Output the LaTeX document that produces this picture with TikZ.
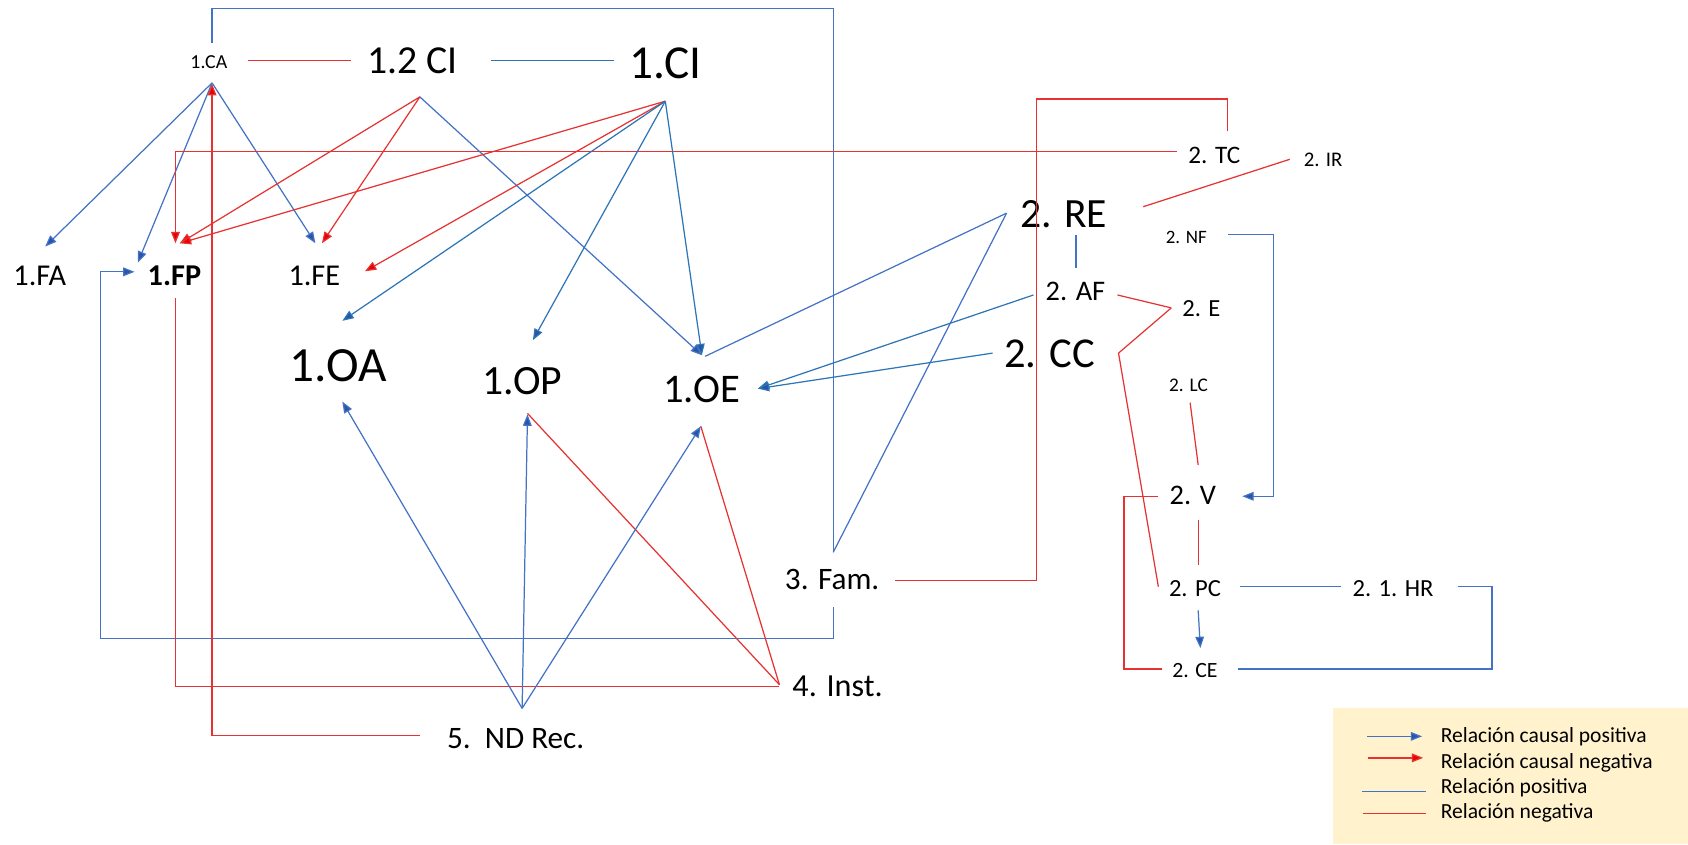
\documentclass[tikz,border=0pt]{standalone}
\usepackage{fontspec}
\setmainfont{Carlito}
\usetikzlibrary{arrows.meta,calc}
\definecolor{ln}{RGB}{68,114,196}
\definecolor{lnb}{RGB}{46,117,182}
\definecolor{arb}{RGB}{40,85,170}
\definecolor{lr}{RGB}{230,50,50}
\definecolor{arr}{RGB}{235,0,0}
\definecolor{legfill}{RGB}{255,242,204}
\begin{document}
\begin{tikzpicture}[x=0.02cm,y=-0.02cm,
  lbl/.style={anchor=base,inner sep=0pt,text=black},
  legtxt/.style={anchor=base west,inner sep=0pt,text=black,font=\fontsize{11.4pt}{11.4pt}\selectfont},
  fsz/.style={font=\fontsize{#1pt}{#1pt}\selectfont},
  relpos/.style={draw=ln,line width=0.65pt},
  relposb/.style={draw=lnb,line width=0.65pt},
  relneg/.style={draw=lr,line width=0.65pt},
  causpos/.style={relpos,-{Triangle[length=6pt,width=4.6pt,fill=arb]}},
  causposb/.style={relposb,-{Triangle[length=6pt,width=4.6pt,fill=arb]}},
  causneg/.style={relneg,-{Triangle[length=6pt,width=4.6pt,fill=arr]}}]
\useasboundingbox (0,0) rectangle (1568,784);

% ---------- nodes ----------
\node[lbl,fsz=10.5] (ca) at (194,64) {1.CA};
\node[lbl,fsz=21] (ci2) at (383,68) {1.2 CI};
\node[lbl,fsz=25] (ci) at (618,73) {1.CI};
\node[lbl,fsz=16] (fa) at (37,265) {1.FA};
\node[lbl,fsz=16] (fp) at (162,265) {\bfseries 1.FP};
\node[lbl,fsz=16] (fe) at (292,265) {1.FE};
\node[lbl,fsz=26] (oa) at (314,354) {1.OA};
\node[lbl,fsz=22] (op) at (485,366) {1.OP};
\node[lbl,fsz=21.5] (oe) at (652,374) {1.OE};
\node[lbl,fsz=13.3] (tc) at (1128,152) {2. TC};
\node[lbl,fsz=11] (ir) at (1229,155) {2. IR};
\node[lbl,fsz=22] (re) at (988,211) {2. RE};
\node[lbl,fsz=10] (nf) at (1102,226) {2. NF};
\node[lbl,fsz=15] (af) at (999,279) {2. AF};
\node[lbl,fsz=13] (e) at (1116,294) {2. E};
\node[lbl,fsz=22.5] (cc) at (975,341) {2. CC};
\node[lbl,fsz=10.2] (lc) at (1104,364) {2. LC};
\node[lbl,fsz=15] (v) at (1108,469) {2. V};
\node[lbl,fsz=13] (pc) at (1110,554) {2. PC};
\node[lbl,fsz=13] (hr) at (1294,554) {2. 1. HR};
\node[lbl,fsz=11.5] (ce) at (1110,629) {2. CE};
\node[lbl,fsz=16.5] (fam) at (773,548) {3. Fam.};
\node[lbl,fsz=17] (inst) at (778,647) {4. Inst.};
\node[lbl,fsz=16.5] (nd) at (479,695) {5.\ \ ND Rec.};

% ---------- top row ----------
\draw[relneg] ($(ca.base)+(36,-8)$) -- ($(ci2.base)+(-57,-12)$);
\draw[relposb] ($(ci2.base)+(73,-12)$) -- ($(ci.base)+(-48,-17)$);

% 1.CA <-> 3. Fam. (big frame)
\draw[relpos] ($(ca.base)+(3,-24)$) -- ++(0,-32) -| ($(fam.base)+(1,-35)$);
\draw[causpos] ($(fam.base)+(1,16)$) |- ++(-681,29) |- ($(fp.base)+(-37,-12.5)$);

% 1.CA arrows
\draw[causpos] ($(ca.base)+(3,13)$) -- ($(fa.base)+(5,-36)$);
\draw[causpos] ($(ca.base)+(3,13)$) -- ($(fp.base)+(-34,-21)$);
\draw[causpos] ($(ca.base)+(3,13)$) -- ($(fe.base)+(1,-39)$);
\draw[causneg] ($(nd.base)+(-89,-12)$) -| ($(ca.base)+(3,14)$);

% 2. TC -> 1.FP
\draw[causneg] ($(tc.base)+(-35,-11)$) -| ($(fp.base)+(1,-39)$);

% 1.2 CI arrows
\draw[causneg] ($(ci2.base)+(7,22)$) -- ($(fp.base)+(5,-39)$);
\draw[causneg] ($(ci2.base)+(7,22)$) -- ($(fe.base)+(7,-39)$);
\draw[causpos] ($(ci2.base)+(7,22)$) -- ($(oe.base)+(0,-44)$);

% 1.CI arrows
\draw[causneg] ($(ci.base)+(0,21)$) -- ($(fp.base)+(5,-39)$);
\draw[causneg] ($(ci.base)+(0,21)$) -- ($(fe.base)+(47,-13)$);
\draw[causposb] ($(ci.base)+(0,21)$) -- ($(oa.base)+(4,-56)$);
\draw[causposb] ($(ci.base)+(0,21)$) -- ($(op.base)+(10,-50)$);
\draw[causposb] ($(ci.base)+(0,21)$) -- ($(oe.base)+(0,-44)$);

% 1.FP -- 4. Inst.
\draw[relneg] ($(fp.base)+(1,12)$) |- ($(inst.base)+(-54,-9)$);
% 4. Inst. -- 1.OP, 1.OE
\draw[relneg] ($(inst.base)+(-54,-11)$) -- ($(op.base)+(5,18)$);
\draw[relneg] ($(inst.base)+(-54,-11)$) -- ($(oe.base)+(-1,22)$);

% 5. ND Rec. arrows
\draw[causpos] ($(nd.base)+(6,-37)$) -- ($(oa.base)+(4,19)$);
\draw[causpos] ($(nd.base)+(6,-37)$) -- ($(op.base)+(5,19)$);
\draw[causpos] ($(nd.base)+(6,-37)$) -- ($(oe.base)+(-1,22)$);

% 2. RE lines
\draw[relpos] ($(re.base)+(-53,-13)$) -- ($(oe.base)+(3,-43)$);
\draw[relpos] ($(re.base)+(-53,-13)$) -- ($(fam.base)+(1,-35)$);
\draw[relpos] ($(re.base)+(11.5,7)$) -- ($(af.base)+(0.5,-30)$);
\draw[relneg] ($(re.base)+(74,-19)$) -- ($(ir.base)+(-31,-7)$);

% 2. AF, 2. CC -> 1.OE
\draw[causposb] ($(af.base)+(-39,-5)$) -- ($(oe.base)+(52,-13)$);
\draw[causposb] ($(cc.base)+(-53,-13)$) -- ($(oe.base)+(52,-13)$);

% 2. AF -- 2. E -- 2. PC
\draw[relneg] ($(af.base)+(39,-5)$) -- ($(e.base)+(-28,-8)$);
\draw[relneg] ($(e.base)+(-28,-8)$) -- ++(-49,42) -- ($(pc.base)+(-34,-9)$);

% 2. TC -- 3. Fam.
\draw[relneg] ($(tc.base)+(12,-30)$) |- ++(-177,-30) |- ($(fam.base)+(58,-9)$);

% 2. NF -> 2. V
\draw[causpos] ($(nf.base)+(39,-8)$) -- ++(42,0) |- ($(v.base)+(46,-8)$);

% 2. LC -- 2. V -- 2. PC
\draw[relneg] ($(lc.base)+(1.5,10)$) -- ($(v.base)+(5,-37)$);
\draw[relneg] ($(v.base)+(5,14)$) -- ($(pc.base)+(3,-29)$);
\draw[relneg] ($(v.base)+(-32,-8)$) -- ++(-32,0) |- ($(ce.base)+(-31,-7.5)$);

% 2. PC -> 2. CE, 2. PC -- 2. 1. HR -- 2. CE
\draw[causpos] ($(pc.base)+(3,13)$) -- ($(ce.base)+(5,-27)$);
\draw[relpos] ($(pc.base)+(42,-9)$) -- ($(hr.base)+(-48,-9)$);
\draw[relpos] ($(hr.base)+(60,-9)$) -- ++(32,0) |- ($(ce.base)+(40,-7.5)$);

% ---------- legend ----------
\fill[legfill] (1238,658) rectangle (1568,784);
\node[legtxt] (l1) at (1338,690) {Relación causal positiva};
\node[legtxt] (l2) at (1338,713.5) {Relación causal negativa};
\node[legtxt] (l3) at (1338,737) {Relación positiva};
\node[legtxt] (l4) at (1338,760.5) {Relación negativa};
\draw[causpos] ($(l1.base west)+(-68,-6)$) -- ($(l1.base west)+(-17,-6)$);
\draw[causneg] ($(l2.base west)+(-67,-9.5)$) -- ($(l2.base west)+(-16,-9.5)$);
\draw[relpos] ($(l3.base west)+(-73,-1.5)$) -- ($(l3.base west)+(-13,-1.5)$);
\draw[relneg] ($(l4.base west)+(-72,-4.5)$) -- ($(l4.base west)+(-13,-4.5)$);
\end{tikzpicture}
\end{document}
